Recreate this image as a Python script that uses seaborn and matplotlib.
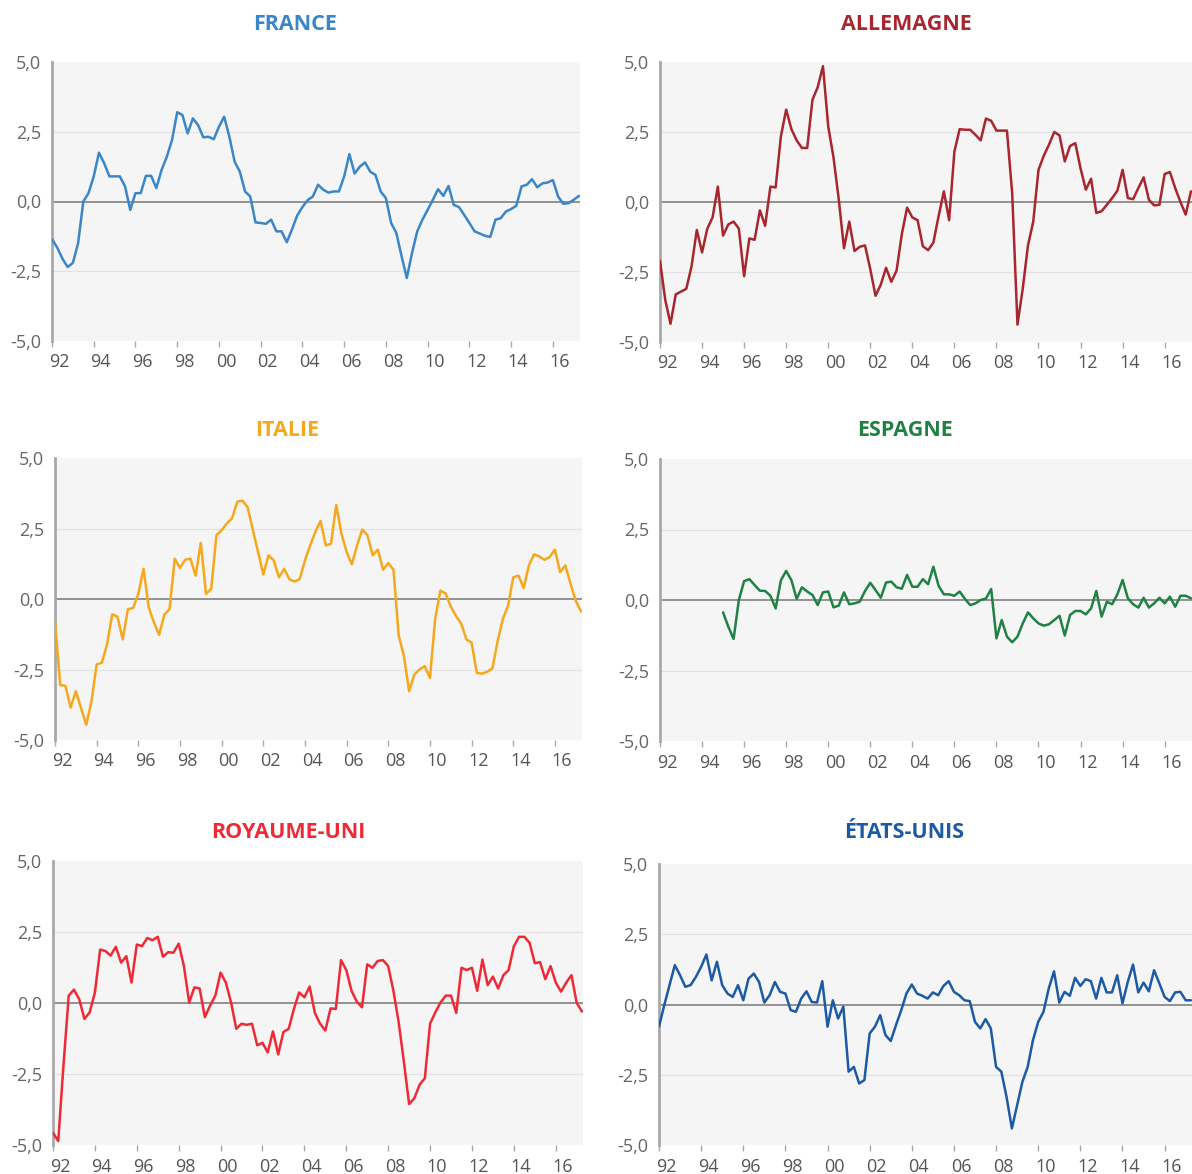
import numpy as np
import pandas as pd
import matplotlib
matplotlib.use("Agg")
import matplotlib.pyplot as plt
from matplotlib.transforms import ScaledTranslation
import seaborn as sns

# ---------------- data (quarterly values) ----------------
start_main = 1992.0
start_spain = 1995.0

france = [-1.35, -1.65, -2.05, -2.35, -2.2, -1.5, 0.0, 0.3, 0.9, 1.75,
          1.37, 0.9, 0.9, 0.9, 0.54, -0.3, 0.3, 0.3, 0.92, 0.92,
          0.48, 1.13, 1.6, 2.2, 3.2, 3.1, 2.44, 2.98, 2.74, 2.3,
          2.32, 2.23, 2.68, 3.04, 2.32, 1.43, 1.07, 0.36, 0.18, -0.75,
          -0.77, -0.8, -0.65, -1.07, -1.07, -1.46, -1.0, -0.5, -0.2, 0.05,
          0.18, 0.6, 0.42, 0.32, 0.36, 0.36, 0.9, 1.7, 1.0, 1.25,
          1.4, 1.07, 0.95, 0.36, 0.12, -0.77, -1.13, -1.96, -2.74, -1.85,
          -1.07, -0.65, -0.3, 0.06, 0.44, 0.2, 0.56, -0.12, -0.2, -0.48,
          -0.77, -1.07, -1.15, -1.23, -1.27, -0.65, -0.6, -0.36, -0.27, -0.15,
          0.54, 0.6, 0.8, 0.51, 0.65, 0.68, 0.77, 0.18, -0.08, -0.06,
          0.06, 0.2]

allemagne = [-2.1, -3.5, -4.35, -3.3, -3.2, -3.1, -2.3, -1.0, -1.8, -0.95,
             -0.55, 0.55, -1.2, -0.8, -0.7, -0.95, -2.65, -1.3, -1.35, -0.3,
             -0.85, 0.55, 0.52, 2.35, 3.3, 2.6, 2.2, 1.93, 1.93, 3.65,
             4.1, 4.85, 2.7, 1.6, 0.1, -1.65, -0.7, -1.75, -1.6, -1.55,
             -2.4, -3.35, -2.95, -2.35, -2.85, -2.45, -1.15, -0.2, -0.55, -0.65,
             -1.58, -1.72, -1.45, -0.5, 0.38, -0.65, 1.8, 2.6, 2.58, 2.58,
             2.4, 2.2, 2.98, 2.9, 2.55, 2.55, 2.55, 0.3, -4.38, -3.1,
             -1.55, -0.7, 1.15, 1.65, 2.05, 2.5, 2.38, 1.45, 2.0, 2.1,
             1.2, 0.44, 0.83, -0.39, -0.33, -0.1, 0.14, 0.4, 1.15, 0.14,
             0.1, 0.5, 0.88, 0.08, -0.12, -0.1, 1.0, 1.07, 0.5, 0.0,
             -0.45, 0.38]

italie = [-0.77, -3.05, -3.08, -3.85, -3.27, -3.87, -4.46, -3.63, -2.32, -2.26,
          -1.6, -0.54, -0.63, -1.43, -0.36, -0.32, 0.18, 1.07, -0.3, -0.83,
          -1.27, -0.55, -0.36, 1.43, 1.1, 1.39, 1.43, 0.83, 1.99, 0.18,
          0.36, 2.26, 2.44, 2.68, 2.86, 3.45, 3.49, 3.25, 2.44, 1.67,
          0.87, 1.55, 1.37, 0.77, 1.07, 0.7, 0.62, 0.71, 1.37, 1.9,
          2.38, 2.77, 1.9, 1.96, 3.33, 2.32, 1.67, 1.23, 1.9, 2.46,
          2.26, 1.55, 1.75, 1.04, 1.27, 1.04, -1.3, -2.02, -3.27, -2.68,
          -2.5, -2.38, -2.8, -0.71, 0.3, 0.2, -0.27, -0.6, -0.87, -1.43,
          -1.55, -2.62, -2.65, -2.58, -2.46, -1.49, -0.71, -0.24, 0.77, 0.83,
          0.39, 1.19, 1.58, 1.51, 1.39, 1.49, 1.75, 0.95, 1.19, 0.54,
          -0.06, -0.44]

espagne = [-0.44, -0.95, -1.38, 0.0, 0.67, 0.74, 0.53, 0.33, 0.32, 0.15,
           -0.3, 0.7, 1.03, 0.7, 0.04, 0.45, 0.3, 0.18, -0.18, 0.27,
           0.3, -0.26, -0.2, 0.27, -0.15, -0.12, -0.06, 0.32, 0.61, 0.35,
           0.08, 0.62, 0.65, 0.45, 0.4, 0.89, 0.47, 0.47, 0.74, 0.56,
           1.18, 0.5, 0.2, 0.2, 0.15, 0.3, 0.04, -0.18, -0.12, 0.0,
           0.05, 0.39, -1.36, -0.71, -1.3, -1.5, -1.3, -0.83, -0.44, -0.65,
           -0.83, -0.91, -0.86, -0.71, -0.56, -1.26, -0.53, -0.39, -0.39, -0.51,
           -0.3, 0.32, -0.59, -0.06, -0.15, 0.2, 0.71, 0.06, -0.15, -0.27,
           0.08, -0.27, -0.12, 0.08, -0.12, 0.12, -0.24, 0.15, 0.15, 0.06]

royaume_uni = [-4.57, -4.86, -2.2, 0.26, 0.47, 0.14, -0.56, -0.33, 0.37, 1.88,
               1.83, 1.67, 1.98, 1.42, 1.65, 0.72, 2.06, 2.0, 2.29, 2.21,
               2.33, 1.63, 1.79, 1.77, 2.09, 1.3, 0.02, 0.55, 0.51, -0.5,
               -0.09, 0.26, 1.07, 0.72, 0.02, -0.91, -0.73, -0.77, -0.73, -1.49,
               -1.4, -1.74, -1.0, -1.81, -1.02, -0.91, -0.21, 0.37, 0.2, 0.58,
               -0.35, -0.73, -0.97, -0.19, -0.21, 1.51, 1.16, 0.43, 0.05, -0.15,
               1.36, 1.24, 1.48, 1.51, 1.3, 0.43, -0.67, -2.07, -3.56, -3.35,
               -2.88, -2.65, -0.73, -0.33, 0.02, 0.26, 0.26, -0.35, 1.24, 1.16,
               1.24, 0.43, 1.53, 0.63, 0.93, 0.51, 0.98, 1.16, 2.0, 2.33,
               2.33, 2.12, 1.4, 1.44, 0.84, 1.3, 0.72, 0.4, 0.72, 0.98,
               0.0, -0.3]

etats_unis = [-0.79, -0.02, 0.69, 1.4, 1.04, 0.63, 0.69, 0.98, 1.34, 1.78,
              0.86, 1.52, 0.69, 0.39, 0.27, 0.69, 0.15, 0.92, 1.1, 0.8,
              0.07, 0.33, 0.8, 0.45, 0.39, -0.2, -0.26, 0.21, 0.47, 0.09,
              0.07, 0.83, -0.79, 0.15, -0.5, -0.08, -2.39, -2.22, -2.81, -2.69,
              -1.03, -0.79, -0.38, -1.09, -1.3, -0.73, -0.2, 0.4, 0.71, 0.39,
              0.31, 0.21, 0.43, 0.33, 0.66, 0.83, 0.45, 0.33, 0.15, 0.12,
              -0.62, -0.85, -0.52, -0.85, -2.22, -2.39, -3.3, -4.41, -3.58, -2.75,
              -2.22, -1.27, -0.62, -0.26, 0.57, 1.18, 0.07, 0.45, 0.31, 0.95,
              0.66, 0.9, 0.83, 0.21, 0.95, 0.43, 0.43, 1.04, 0.04, 0.8,
              1.42, 0.43, 0.78, 0.47, 1.22, 0.75, 0.27, 0.12, 0.43, 0.45,
              0.15, 0.15]

titles = ["FRANCE", "ALLEMAGNE", "ITALIE", "ESPAGNE", "ROYAUME-UNI", "ÉTATS-UNIS"]
series = [france, allemagne, italie, espagne, royaume_uni, etats_unis]
starts = [start_main, start_main, start_main, start_spain, start_main, start_main]
colors = ["#3b86c8", "#a8262e", "#f6a81d", "#1f8244", "#ee2a37", "#1d5aa6"]

y_ticks = [-5.0, -2.5, 0.0, 2.5, 5.0]
y_labels = ["-5,0", "-2,5", "0,0", "2,5", "5,0"]
x_ticks = list(range(1992, 2017, 2))
x_labels = ["92", "94", "96", "98", "00", "02", "04", "06", "08", "10", "12", "14", "16"]

# ---------------- style ----------------
sns.set_theme(style="white")
plt.rcParams["font.family"] = ["Open Sans", "DejaVu Sans"]

W, H = 1192, 1174
fig = plt.figure(figsize=(W / 100, H / 100), dpi=100)

# axes boxes in pixels: (left, top, right, bottom)
boxes = [
    (52, 62, 580, 341),
    (660, 62, 1192, 342),
    (55, 458, 582, 740),
    (660, 459, 1192, 741),
    (53, 861, 583, 1145),
    (659, 864, 1192, 1145),
]
title_pos = [(295, 25), (906, 25), (287, 431), (905, 431), (288, 832), (904, 832)]

for i in range(6):
    l, t, r, b = boxes[i]
    ax = fig.add_axes([l / W, 1 - b / H, (r - l) / W, (b - t) / H])
    vals = series[i]
    df = pd.DataFrame({"year": starts[i] + 0.25 * np.arange(len(vals)), "value": vals})
    ax.set_facecolor("#f5f5f5")
    for gy in (-2.5, 2.5):
        ax.axhline(gy, color="#e3e3e3", lw=0.9, zorder=1)
    ax.axhline(0, color="#8a8a8a", lw=1.3, zorder=2)
    sns.lineplot(data=df, x="year", y="value", ax=ax, color=colors[i], lw=1.8,
                 zorder=3, legend=False)
    ax.set_xlim(1992, 2017.3)
    ax.set_ylim(-5, 5)
    ax.set_xlabel("")
    ax.set_ylabel("")
    ax.set_yticks(y_ticks)
    ax.set_yticklabels(y_labels)
    ax.set_xticks(x_ticks)
    ax.set_xticklabels(x_labels)
    for s in ("top", "right", "bottom"):
        ax.spines[s].set_visible(False)
    ax.spines["left"].set_color("#a9a9a9")
    ax.spines["left"].set_linewidth(2.0)
    ax.tick_params(axis="y", length=0, pad=8, labelsize=13, labelcolor="#666666")
    ax.tick_params(axis="x", length=4, width=1, color="#aaaaaa", direction="out",
                   pad=5, labelsize=13, labelcolor="#555555", bottom=True)
    off = ScaledTranslation(7 / 100, 0, fig.dpi_scale_trans)
    for lab in ax.get_xticklabels():
        lab.set_transform(lab.get_transform() + off)
    tx, ty = title_pos[i]
    fig.text(tx / W, 1 - ty / H, titles[i], color=colors[i], fontsize=15.5,
             fontweight="bold", ha="center", va="center")

fig.savefig("out.png", dpi=100)
